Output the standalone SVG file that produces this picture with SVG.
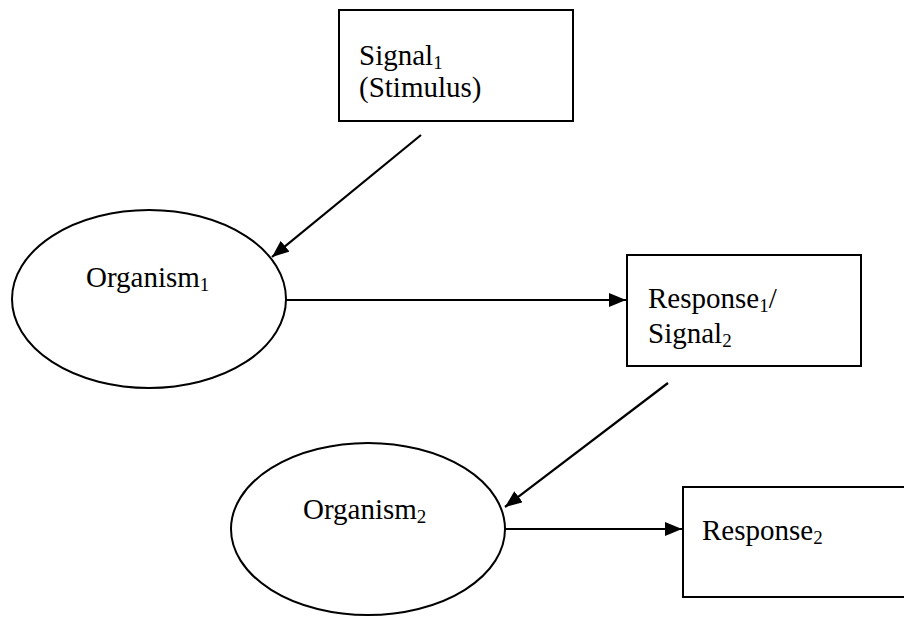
<svg xmlns="http://www.w3.org/2000/svg" width="904" height="618" viewBox="0 0 904 618">
<style>
.box{fill:#fff;stroke:#000;stroke-width:2}
.ell{fill:#fff;stroke:#000;stroke-width:2}
.con{stroke:#000;stroke-width:2.2;fill:none}
</style>
<defs>
<marker id="ah" markerUnits="userSpaceOnUse" markerWidth="18" markerHeight="14" refX="17" refY="7" orient="auto">
<path d="M0,0 L17,7 L0,14 z" fill="#000"/>
</marker>
</defs>
<rect width="904" height="618" fill="#fff"/>
<g id="signal1">
<rect class="box" x="339" y="10" width="234" height="111"/>
<text x="359" y="65" font-family="'Liberation Serif'" font-size="29">Signal<tspan font-size="19" dy="4">1</tspan></text>
<text x="359" y="97" font-family="'Liberation Serif'" font-size="29">(Stimulus)</text>
</g>
<g id="organism1">
<ellipse class="ell" cx="149" cy="299" rx="137" ry="89"/>
<text x="86" y="287" font-family="'Liberation Serif'" font-size="29">Organism<tspan font-size="19" dy="4">1</tspan></text>
</g>
<g id="response1">
<rect class="box" x="627" y="255" width="234" height="111"/>
<text x="648" y="308" font-family="'Liberation Serif'" font-size="29">Response<tspan font-size="19" dy="4">1</tspan><tspan dy="-4">/</tspan></text>
<text x="648" y="343" font-family="'Liberation Serif'" font-size="29">Signal<tspan font-size="19" dy="4">2</tspan></text>
</g>
<g id="organism2">
<ellipse class="ell" cx="368" cy="529" rx="137" ry="86"/>
<text x="303" y="519" font-family="'Liberation Serif'" font-size="29">Organism<tspan font-size="19" dy="4">2</tspan></text>
</g>
<g id="response2">
<rect class="box" x="683" y="487" width="240" height="110"/>
<text x="702" y="540" font-family="'Liberation Serif'" font-size="29">Response<tspan font-size="19" dy="4">2</tspan></text>
</g>
<g id="connectors">
<line class="con" marker-end="url(#ah)" x1="421" y1="135" x2="272" y2="257"/>
<line class="con" marker-end="url(#ah)" x1="286" y1="300" x2="626" y2="300"/>
<line class="con" marker-end="url(#ah)" x1="668" y1="383" x2="505" y2="507"/>
<line class="con" marker-end="url(#ah)" x1="505" y1="529" x2="682" y2="529"/>
</g>
</svg>
